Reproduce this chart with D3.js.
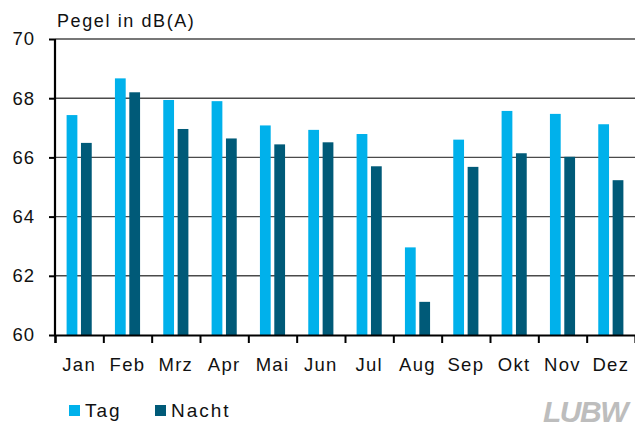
<!DOCTYPE html>
<html>
    <head>
        <meta charset="utf-8">
        <title>Pegel in dB(A)</title>
        <script src="https://d3js.org/d3.v7.min.js"></script>
        <style>
            body { margin:0; background:#fff; }
            text { font-family: "Liberation Sans", Arial, sans-serif; fill:#111; }
        </style>
    </head>
    <body>
        <svg id="chart" width="635" height="430"></svg>
        <script>
            "use strict";

            const months = ["Jan", "Feb", "Mrz", "Apr", "Mai", "Jun", "Jul", "Aug", "Sep", "Okt", "Nov", "Dez"];
            const series = ["Tag", "Nacht"];
            const tagValues = [67.43, 68.67, 67.94, 67.9, 67.08, 66.93, 66.79, 62.96, 66.6, 67.57, 67.47, 67.12];
            const nachtValues = [66.49, 68.2, 66.96, 66.64, 66.44, 66.51, 65.7, 61.12, 65.68, 66.14, 66.02, 65.23];
            const yTicks = [60, 62, 64, 66, 68, 70];
            const colors = { Tag: "#00b1eb", Nacht: "#005a78" };

            const svg = d3.select("#chart");
            const margin = { top:39, right:0, bottom:95, left:55 };
            const width = +svg.attr("width");
            const height = +svg.attr("height");
            const plotBottom = height - margin.bottom;

            const y = d3.scaleLinear().domain([60, 70]).range([plotBottom, margin.top]);
            const x0 = d3.scaleBand().domain(months)
                .range([margin.left, width - margin.right])
                .paddingInner(0.48).paddingOuter(0.24);
            const x1 = d3.scaleBand().domain(series)
                .range([0, x0.bandwidth()]).paddingInner(0.25);
            const xEdge = d3.scaleLinear().domain([0, months.length])
                .range([margin.left, width - margin.right]);

            // grid lines
            svg.append("g")
                .selectAll("line")
                .data(yTicks.filter(t => t > 60))
                .join("line")
                .attr("x1", margin.left).attr("x2", width)
                .attr("y1", d => y(d)).attr("y2", d => y(d))
                .attr("stroke", "#4a4a4a").attr("stroke-width", 1.4);

            // bars
            const rows = months.map((m, i) => ({ month: m, Tag: tagValues[i], Nacht: nachtValues[i] }));
            svg.append("g")
                .selectAll("g")
                .data(rows)
                .join("g")
                .attr("transform", d => `translate(${x0(d.month)},0)`)
                .selectAll("rect")
                .data(d => series.map(s => ({ key: s, value: d[s] })))
                .join("rect")
                .attr("x", d => x1(d.key))
                .attr("width", x1.bandwidth())
                .attr("y", d => y(d.value))
                .attr("height", d => y(60) - y(d.value))
                .attr("fill", d => colors[d.key]);

            // y axis
            const yAxis = svg.append("g")
                .attr("transform", `translate(${margin.left},0)`)
                .call(d3.axisLeft(y).tickValues(yTicks).tickSize(6).tickPadding(14));
            yAxis.select(".domain").attr("stroke", "#000").attr("stroke-width", 2.2)
                .attr("d", `M0,${y(70)}V${y(60)}`);
            yAxis.selectAll(".tick line").attr("stroke", "#000").attr("stroke-width", 2);
            yAxis.selectAll(".tick text")
                .style("font-family", "Liberation Sans, Arial, sans-serif")
                .style("font-size", "18.5px").style("letter-spacing", "1px").attr("fill", "#111");

            // x axis: ticks at category boundaries
            const xAxis = svg.append("g")
                .attr("transform", `translate(0,${plotBottom})`)
                .call(d3.axisBottom(xEdge).tickValues(d3.range(0, months.length)).tickSize(8).tickFormat(""));
            xAxis.select(".domain").attr("stroke", "#000").attr("stroke-width", 2.2);
            xAxis.selectAll(".tick line").attr("stroke", "#000").attr("stroke-width", 2);

            svg.append("g")
                .selectAll("text")
                .data(months)
                .join("text")
                .attr("x", d => x0(d) + x0.bandwidth() / 2)
                .attr("y", 371)
                .attr("text-anchor", "middle")
                .style("font-size", "18.5px").style("letter-spacing", "1.3px")
                .text(d => d);

            // title
            svg.append("text")
                .attr("x", 57).attr("y", 26.5)
                .style("font-size", "18px").style("letter-spacing", "1.6px")
                .text("Pegel in dB(A)");

            // legend
            const legendX = [69, 155];
            const legend = svg.append("g")
                .selectAll("g")
                .data(series)
                .join("g")
                .attr("transform", (d, i) => `translate(${legendX[i]},405)`);
            legend.append("rect")
                .attr("width", 11).attr("height", 11)
                .attr("fill", d => colors[d]);
            legend.append("text")
                .attr("x", 16).attr("y", 11.5)
                .style("font-size", "19px").style("letter-spacing", "2px")
                .text(d => d);

            // logo
            svg.append("text")
                .attr("x", 627).attr("y", 422)
                .attr("text-anchor", "end")
                .style("font-family", "Liberation Sans Narrow, Liberation Sans, sans-serif")
                .style("font-size", "30px").style("font-weight", "bold").style("font-style", "italic")
                .style("letter-spacing", "-1.5px")
                .style("fill", "#bdbdbd")
                .text("LUBW");
        </script>
    </body>
</html>
